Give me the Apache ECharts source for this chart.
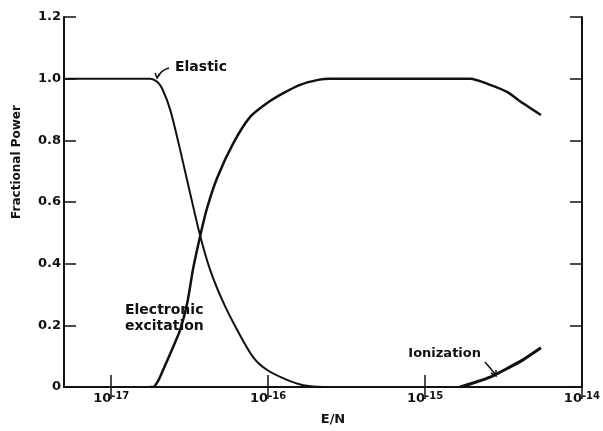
<!DOCTYPE html>
<html>
<head>
<meta charset="utf-8">
<script src="https://cdn.jsdelivr.net/npm/echarts@6/dist/echarts.min.js"></script>
<style>
  html, body { margin: 0; padding: 0; background: #fff; }
  #chart { width: 603px; height: 431px; }
</style>
</head>
<body>
<div id="chart"></div>
<script>
// E/N values and fractional power
const elasticEN = [5e-18, 1.77e-17, 1.96e-17, 2.11e-17, 2.38e-17, 2.75e-17, 3.18e-17, 3.69e-17, 4.27e-17, 5.17e-17, 6.35e-17, 8.02e-17, 9.86e-17, 1.32e-16, 1.67e-16, 2.24e-16, 1.67e-15]
const elasticFrac = [1.0, 1.0, 0.99, 0.968, 0.898, 0.769, 0.629, 0.49, 0.38, 0.275, 0.185, 0.097, 0.055, 0.023, 0.006, 0, 0]

const excitEN = [1.77e-17, 1.85e-17, 1.99e-17, 2.14e-17, 2.48e-17, 2.75e-17, 3.05e-17, 3.33e-17, 3.69e-17, 4.08e-17, 4.73e-17, 5.99e-17, 7.68e-17, 9.86e-17, 1.25e-16, 1.6e-16, 2.08e-16, 2.48e-16, 1.94e-15, 2.6e-15, 3.33e-15, 4.21e-15, 5.48e-15]
const excitFrac = [0, 0, 0.02, 0.055, 0.13, 0.185, 0.272, 0.385, 0.49, 0.58, 0.678, 0.79, 0.876, 0.921, 0.953, 0.98, 0.996, 1.0, 1.0, 0.98, 0.957, 0.92, 0.882]

const ionEN = [1.67e-15, 2.02e-15, 2.6e-15, 3.33e-15, 4.21e-15, 5.48e-15]
const ionFrac = [0, 0.013, 0.032, 0.06, 0.088, 0.127]

const xTickExps = [-17, -16, -15, -14]
const xMin = 5e-18
const xMax = 1e-14

const FONT = '"DejaVu Sans", sans-serif'
const INK = '#111'

function toPairs(en, frac) {
  return en.map((e, i) => [Math.log10(e), frac[i]])
}

const chart = echarts.init(document.getElementById('chart'))

const axisLine = { lineStyle: { color: INK, width: 2 } }
const tickIn = { inside: true, length: 12, lineStyle: { color: INK, width: 1.5 } }

const option = {
  animation: false,
  backgroundColor: '#fff',
  grid: { left: 64, right: 21, top: 17, bottom: 44 },
  xAxis: [
    {
      type: 'value',
      min: Math.log10(xMin),
      max: Math.log10(xMax),
      axisLine: axisLine,
      axisTick: Object.assign({ customValues: xTickExps }, tickIn),
      splitLine: { show: false },
      axisLabel: {
        customValues: xTickExps,
        margin: 4,
        formatter: v => '{b|10}{s|' + Math.round(v) + '}',
        rich: {
          b: { fontFamily: FONT, fontWeight: 'bold', fontSize: 13, color: INK, lineHeight: 14, padding: [6, 0, 0, 0], verticalAlign: 'bottom' },
          s: { fontFamily: FONT, fontWeight: 'bold', fontSize: 10, color: INK, lineHeight: 11, verticalAlign: 'top' }
        }
      }
    },
    {
      type: 'value',
      position: 'top',
      min: Math.log10(xMin),
      max: Math.log10(xMax),
      axisLine: axisLine,
      axisTick: Object.assign({ customValues: xTickExps }, tickIn),
      axisLabel: { show: false },
      splitLine: { show: false }
    }
  ],
  yAxis: [
    {
      type: 'value',
      min: 0,
      max: 1.2,
      interval: 0.2,
      axisLine: Object.assign({ show: true }, axisLine),
      axisTick: tickIn,
      splitLine: { show: false },
      axisLabel: {
        margin: 3,
        fontFamily: FONT,
        fontWeight: 'bold',
        fontSize: 13,
        color: INK,
        formatter: v => (v === 0 ? '0' : v.toFixed(1))
      }
    },
    {
      type: 'value',
      position: 'right',
      min: 0,
      max: 1.2,
      interval: 0.2,
      axisLine: Object.assign({ show: true }, axisLine),
      axisTick: tickIn,
      axisLabel: { show: false },
      splitLine: { show: false }
    }
  ],
  series: [
    {
      name: 'Elastic',
      type: 'line',
      data: toPairs(elasticEN, elasticFrac),
      smooth: 0.25,
      showSymbol: false,
      lineStyle: { color: INK, width: 2 }
    },
    {
      name: 'Electronic excitation',
      type: 'line',
      data: toPairs(excitEN, excitFrac),
      smooth: 0.25,
      showSymbol: false,
      lineStyle: { color: INK, width: 2.5 }
    },
    {
      name: 'Ionization',
      type: 'line',
      data: toPairs(ionEN, ionFrac),
      smooth: 0.25,
      showSymbol: false,
      lineStyle: { color: INK, width: 3 }
    }
  ],
  graphic: [
    {
      type: 'text', x: 17, y: 162, rotation: Math.PI / 2,
      style: { text: 'Fractional Power', font: 'bold 12px ' + FONT, fill: INK, align: 'center', verticalAlign: 'middle' }
    },
    {
      type: 'text', x: 333, y: 420,
      style: { text: 'E/N', font: 'bold 13px ' + FONT, fill: INK, align: 'center', verticalAlign: 'middle' }
    },
    {
      type: 'text', x: 175, y: 67,
      style: { text: 'Elastic', font: 'bold 14px ' + FONT, fill: INK, align: 'left', verticalAlign: 'middle' }
    },
    {
      type: 'text', x: 125, y: 310,
      style: { text: 'Electronic', font: 'bold 14px ' + FONT, fill: INK, align: 'left', verticalAlign: 'middle' }
    },
    {
      type: 'text', x: 125, y: 326,
      style: { text: 'excitation', font: 'bold 14px ' + FONT, fill: INK, align: 'left', verticalAlign: 'middle' }
    },
    {
      type: 'text', x: 481, y: 354,
      style: { text: 'Ionization', font: 'bold 13px ' + FONT, fill: INK, align: 'right', verticalAlign: 'middle' }
    },
    {
      type: 'bezierCurve',
      shape: { x1: 169, y1: 68, x2: 157, y2: 78, cpx1: 161, cpy1: 70 },
      style: { stroke: INK, lineWidth: 1.5, fill: null }
    },
    {
      type: 'polyline',
      shape: { points: [[155, 73], [157, 78], [160, 74]] },
      style: { stroke: INK, lineWidth: 1.5, fill: null }
    },
    {
      type: 'line',
      shape: { x1: 485, y1: 362, x2: 496, y2: 375 },
      style: { stroke: INK, lineWidth: 1.5 }
    },
    {
      type: 'polyline',
      shape: { points: [[491, 373], [496, 376], [496, 370]] },
      style: { stroke: INK, lineWidth: 1.5, fill: null }
    }
  ]
}

chart.setOption(option)
</script>
</body>
</html>
